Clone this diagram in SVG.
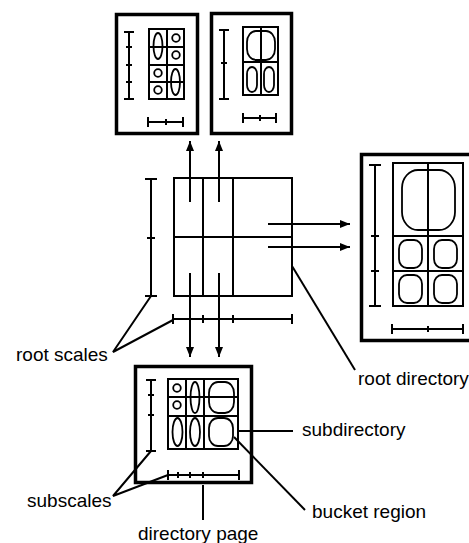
<svg xmlns="http://www.w3.org/2000/svg" width="469" height="543" viewBox="0 0 469 543">
<defs>
<style>
.box{fill:none;stroke:#000;stroke-width:3.5}
.ln{fill:none;stroke:#000;stroke-width:2}
.thin{fill:none;stroke:#000;stroke-width:1.8}
.lbl{font-family:"Liberation Sans",Arial,sans-serif;font-size:19px;fill:#000}
</style>
<marker id="ah" viewBox="0 0 10 8" refX="10" refY="4" markerWidth="10" markerHeight="8" markerUnits="userSpaceOnUse" orient="auto">
<path d="M0,0 L10,4 L0,8 Z" fill="#000"/>
</marker>
</defs>
<rect width="469" height="543" fill="#fff"/>

<!-- top-left directory page -->
<g id="page-top-left">
<rect class="box" x="116.5" y="14.5" width="81" height="119"/>
<path class="ln" d="M129,32 V99 M124,32 H134 M126,47 H132 M126,65 H132 M126,82 H132 M124,99 H134"/>
<rect class="ln" x="149" y="29" width="35" height="70"/>
<path class="ln" d="M167,29 V99 M149,47 H184 M149,65 H184 M149,82 H184"/>
<ellipse class="thin" cx="158" cy="46" rx="4.5" ry="13"/>
<circle class="thin" cx="176" cy="38" r="3.8"/>
<circle class="thin" cx="176" cy="55" r="3.8"/>
<circle class="thin" cx="158" cy="73" r="3.8"/>
<circle class="thin" cx="158" cy="90" r="3.8"/>
<ellipse class="thin" cx="175.5" cy="82" rx="4.5" ry="13"/>
<path class="ln" d="M148,122 H183 M148,117 V127 M166,119 V125 M183,117 V127"/>
</g>

<!-- top-right directory page -->
<g id="page-top-right">
<rect class="box" x="211.5" y="13.5" width="80" height="120"/>
<path class="ln" d="M224,30 V99 M219,30 H229 M221,63 H227 M219,99 H229"/>
<rect class="ln" x="243" y="27" width="35" height="68"/>
<path class="ln" d="M261,27 V95 M243,62 H278"/>
<rect class="thin" x="247" y="31" width="28" height="29" rx="9" ry="11"/>
<rect class="thin" x="247" y="67" width="10" height="25" rx="5" ry="7"/>
<rect class="thin" x="264" y="67" width="10" height="25" rx="5" ry="7"/>
<path class="ln" d="M243,118 H276 M243,113 V123 M260,115 V121 M276,113 V123"/>
</g>

<!-- root directory (right) -->
<g id="root-directory">
<rect class="box" x="361.5" y="154.5" width="125" height="186"/>
<path class="ln" d="M375,165 V306 M369,165 H381 M371,236 H379 M371,271 H379 M369,306 H381"/>
<rect class="ln" x="393" y="163" width="70" height="143"/>
<path class="ln" d="M428,163 V306 M393,236 H463 M393,271 H463"/>
<rect class="thin" x="402" y="170" width="53" height="60" rx="16" ry="18"/>
<rect class="thin" x="399" y="240" width="23" height="28" rx="8" ry="9"/>
<rect class="thin" x="434" y="240" width="23" height="28" rx="8" ry="9"/>
<rect class="thin" x="399" y="275" width="23" height="28" rx="8" ry="9"/>
<rect class="thin" x="434" y="275" width="23" height="28" rx="8" ry="9"/>
<path class="ln" d="M392,329 H463 M392,324 V334 M428,326 V332 M463,324 V334"/>
</g>

<!-- root grid with root scales -->
<g id="root-grid">
<rect class="ln" x="174" y="178" width="118" height="118"/>
<path class="ln" d="M203,178 V296 M233,178 V296 M174,237 H292"/>
<path class="ln" d="M151,179 V296 M145,179 H157 M147,238 H155 M145,296 H157"/>
<path class="ln" d="M173,319 H292 M173,314 V324 M203,315 V323 M233,315 V323 M292,314 V324"/>
</g>

<!-- bottom directory page -->
<g id="page-bottom">
<rect class="box" x="135.5" y="366.5" width="116" height="116"/>
<path class="ln" d="M151,380 V451 M146,380 H156 M148,395 H154 M148,415 H154 M146,451 H156"/>
<rect class="ln" x="168" y="379" width="70" height="70"/>
<path class="ln" d="M186,379 V449 M204,379 V449 M168,397 H238 M168,416 H238"/>
<circle class="thin" cx="177" cy="388" r="3.8"/>
<circle class="thin" cx="177" cy="405" r="3.8"/>
<ellipse class="thin" cx="195" cy="397.5" rx="4.5" ry="15.5"/>
<rect class="thin" x="209" y="382" width="25" height="31" rx="9" ry="11"/>
<ellipse class="thin" cx="177.5" cy="432" rx="5" ry="14"/>
<ellipse class="thin" cx="195" cy="432" rx="5" ry="14"/>
<rect class="thin" x="209" y="418" width="24" height="28" rx="9" ry="10"/>
<path class="ln" d="M168,475 H239 M168,470 V480 M178,472 V478 M190,472 V478 M203,472 V478 M239,470 V480"/>
</g>

<!-- connectors -->
<g id="connectors">
<path class="ln" d="M190,202 V141" marker-end="url(#ah)"/>
<path class="ln" d="M219,202 V141" marker-end="url(#ah)"/>
<path class="ln" d="M268,224 H350" marker-end="url(#ah)"/>
<path class="ln" d="M268,247 H350" marker-end="url(#ah)"/>
<path class="ln" d="M190,273 V357" marker-end="url(#ah)"/>
<path class="ln" d="M219,273 V357" marker-end="url(#ah)"/>
<path class="ln" d="M151,296 L113,352 L173,320"/>
<path class="ln" d="M292,266 L355,370"/>
<path class="ln" d="M238,431 H293"/>
<path class="ln" d="M234,437 L305,510"/>
<path class="ln" d="M203,485 V520"/>
<path class="ln" d="M151,451 L113,496 L168,475"/>
</g>

<g id="labels">
<text class="lbl" x="16" y="361">root scales</text>
<text class="lbl" x="358" y="385">root directory</text>
<text class="lbl" x="302" y="436">subdirectory</text>
<text class="lbl" x="312" y="518">bucket region</text>
<text class="lbl" x="27" y="507">subscales</text>
<text class="lbl" x="138" y="540">directory page</text>
</g>
</svg>
